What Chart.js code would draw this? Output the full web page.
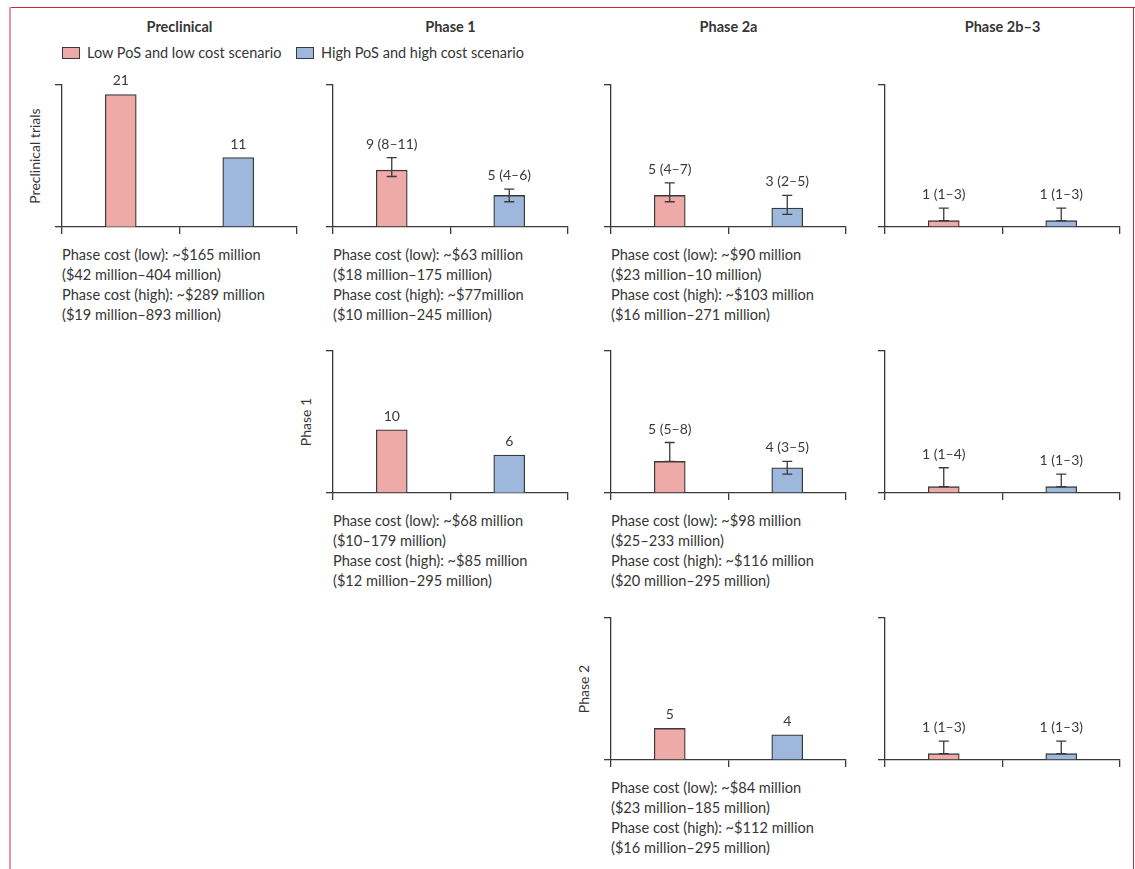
<!DOCTYPE html>
<html>
<head>
<meta charset="utf-8">
<script src="https://cdn.jsdelivr.net/npm/chart.js@4.4.0/dist/chart.umd.min.js"></script>
<style>
body { margin: 0; background: #fff; font-family: Lato, "Open Sans", sans-serif; color: #363636; }
#page { position: relative; width: 1135px; height: 869px; overflow: hidden; }
.rule-top { position: absolute; left: 9px; top: 7px; width: 1126px; height: 1px; background: #c8283a; }
.rule-left { position: absolute; left: 9px; top: 7px; width: 2px; height: 870px; background: #e797a4; }
.rule-right { position: absolute; left: 1133px; top: 7px; width: 1px; height: 870px; background: #d0213f; }
.col-title { position: absolute; top: 18px; font-size: 14.5px; font-weight: bold; transform: translateX(-50%); white-space: nowrap; }
.legend { position: absolute; top: 44px; font-size: 14.5px; line-height: 18px; white-space: nowrap; }
.legend i { display: inline-block; width: 16px; height: 10px; border: 1px solid #3a3a3a; vertical-align: -1px; margin-right: 7px; }
.row-title { position: absolute; font-size: 14px; white-space: nowrap; transform: translate(-50%, -50%) rotate(-90deg); }
.cost { position: absolute; font-size: 14.6px; line-height: 20px; white-space: nowrap; }
.panel { position: absolute; }
</style>
</head>
<body>
<div id="page">
  <div class="rule-top"></div>
  <div class="rule-left"></div>
  <div class="rule-right"></div>
</div>
<script>
const columnTitles = ['Preclinical', 'Phase 1', 'Phase 2a', 'Phase 2b–3'];
const rowTitles = ['Preclinical trials', 'Phase 1', 'Phase 2'];
const scenarioLabels = ['Low PoS and low cost scenario', 'High PoS and high cost scenario'];

// trials needed per phase, starting at preclinical
const preclinicalLow = [21, 9, 5, 1];
const preclinicalLowRange = [null, [8, 11], [4, 7], [1, 3]];
const preclinicalHigh = [11, 5, 3, 1];
const preclinicalHighRange = [null, [4, 6], [2, 5], [1, 3]];

// starting at phase 1
const phase1Low = [10, 5, 1];
const phase1LowRange = [null, [5, 8], [1, 4]];
const phase1High = [6, 4, 1];
const phase1HighRange = [null, [3, 5], [1, 3]];

// starting at phase 2
const phase2Low = [5, 1];
const phase2LowRange = [null, [1, 3]];
const phase2High = [4, 1];
const phase2HighRange = [null, [1, 3]];

const preclinicalCosts = [
  ['Phase cost (low): ~$165 million', '($42 million–404 million)', 'Phase cost (high): ~$289 million', '($19 million–893 million)'],
  ['Phase cost (low): ~$63 million', '($18 million–175 million)', 'Phase cost (high): ~$77million', '($10 million–245 million)'],
  ['Phase cost (low): ~$90 million', '($23 million–10 million)', 'Phase cost (high): ~$103 million', '($16 million–271 million)']
];
const phase1Costs = [
  ['Phase cost (low): ~$68 million', '($10–179 million)', 'Phase cost (high): ~$85 million', '($12 million–295 million)'],
  ['Phase cost (low): ~$98 million', '($25–233 million)', 'Phase cost (high): ~$116 million', '($20 million–295 million)']
];
const phase2Costs = [
  ['Phase cost (low): ~$84 million', '($23 million–185 million)', 'Phase cost (high): ~$112 million', '($16 million–295 million)']
];

const LOW_COLOR = '#eeaaa6';
const HIGH_COLOR = '#9db8dc';
const INK = '#3a3a3a';
const Y_MAX = 22.5;

const rows = [
  { start: 0, low: preclinicalLow, lowRange: preclinicalLowRange, high: preclinicalHigh, highRange: preclinicalHighRange, costs: preclinicalCosts },
  { start: 1, low: phase1Low, lowRange: phase1LowRange, high: phase1High, highRange: phase1HighRange, costs: phase1Costs },
  { start: 2, low: phase2Low, lowRange: phase2LowRange, high: phase2High, highRange: phase2HighRange, costs: phase2Costs }
];

// layout of the grid
const axisX = [62, 333, 611, 885];
const rowTop = [85, 351, 618];
const PLOT_W = 235, PLOT_H = 142, TICK = 7;
const PAD = { left: 4, right: 6, top: 40, bottom: 4 };

const page = document.getElementById('page');

function addDiv(cls, html, style) {
  const d = document.createElement('div');
  d.className = cls;
  d.innerHTML = html;
  Object.assign(d.style, style);
  page.appendChild(d);
  return d;
}

columnTitles.forEach((t, c) => addDiv('col-title', t, { left: (axisX[c] + PLOT_W / 2) + 'px' }));
addDiv('legend', '<i style="background:' + LOW_COLOR + '"></i>' + scenarioLabels[0], { left: '62px' });
addDiv('legend', '<i style="background:' + HIGH_COLOR + '"></i>' + scenarioLabels[1], { left: '296px' });

// error bars and value labels above each bar
const errorBars = {
  id: 'errorBars',
  afterDatasetsDraw(chart) {
    const { ctx, scales: { x, y } } = chart;
    const ds = chart.data.datasets[0];
    ctx.save();
    ctx.strokeStyle = INK;
    ctx.fillStyle = INK;
    ctx.lineWidth = 1.3;
    ctx.font = '14px Lato, "Open Sans", sans-serif';
    ctx.textAlign = 'center';
    ds.data.forEach((v, i) => {
      const px = x.getPixelForValue(i);
      const r = ds.ranges[i];
      let top = y.getPixelForValue(v);
      let label = String(v);
      if (r) {
        const lo = y.getPixelForValue(r[0]);
        const hi = y.getPixelForValue(r[1]);
        ctx.beginPath();
        ctx.moveTo(px, lo); ctx.lineTo(px, hi);
        ctx.moveTo(px - 5, lo); ctx.lineTo(px + 5, lo);
        ctx.moveTo(px - 5, hi); ctx.lineTo(px + 5, hi);
        ctx.stroke();
        top = Math.min(top, hi);
        label = v + ' (' + r[0] + '–' + r[1] + ')';
      }
      ctx.fillText(label, px, top - 9);
    });
    ctx.restore();
  }
};

function makePanel(row, col, k) {
  const left = axisX[col] - TICK - PAD.left;
  const top = rowTop[row] - PAD.top;
  const w = PAD.left + TICK + PLOT_W + PAD.right;
  const h = PAD.top + PLOT_H + TICK + PAD.bottom;
  const wrap = addDiv('panel', '', { left: left + 'px', top: top + 'px', width: w + 'px', height: h + 'px' });
  const canvas = document.createElement('canvas');
  canvas.width = w;
  canvas.height = h;
  wrap.appendChild(canvas);

  const r = rows[row];
  new Chart(canvas, {
    type: 'bar',
    data: {
      labels: scenarioLabels,
      datasets: [{
        data: [r.low[k], r.high[k]],
        ranges: [r.lowRange[k], r.highRange[k]],
        backgroundColor: [LOW_COLOR, HIGH_COLOR],
        borderColor: INK,
        borderWidth: 1.3,
        barThickness: 31
      }]
    },
    options: {
      responsive: false,
      animation: false,
      layout: { padding: PAD },
      plugins: { legend: { display: false }, tooltip: { enabled: false } },
      scales: {
        x: {
          offset: true,
          grid: { offset: true, drawOnChartArea: false, drawTicks: true, tickLength: TICK, color: INK, lineWidth: 1.3 },
          border: { color: INK, width: 1.3 },
          ticks: { display: false }
        },
        y: {
          min: 0,
          max: Y_MAX,
          afterBuildTicks: s => { s.ticks = [{ value: 0 }, { value: Y_MAX }]; },
          grid: { drawOnChartArea: false, drawTicks: true, tickLength: TICK, color: INK, lineWidth: 1.3 },
          border: { color: INK, width: 1.3 },
          ticks: { display: false }
        }
      }
    },
    plugins: [errorBars]
  });
}

rows.forEach((r, row) => {
  addDiv('row-title', rowTitles[row], { left: (axisX[r.start] - 28) + 'px', top: (rowTop[row] + PLOT_H / 2) + 'px' });
  r.low.forEach((_, k) => {
    const col = r.start + k;
    makePanel(row, col, k);
    if (r.costs[k]) {
      addDiv('cost', r.costs[k].join('<br>'), { left: axisX[col] + 'px', top: (rowTop[row] + PLOT_H + 18) + 'px' });
    }
  });
});
</script>
</body>
</html>
